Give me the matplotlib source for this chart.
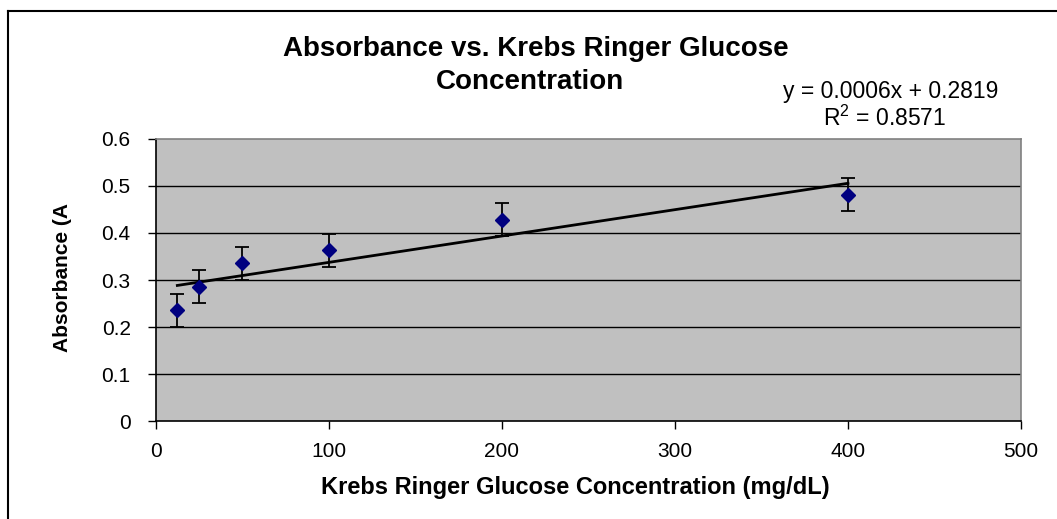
import numpy as np
import matplotlib
matplotlib.use("Agg")
import matplotlib.pyplot as plt
from matplotlib.lines import Line2D

# glucose concentration (mg/dL) and mean absorbance
concentration = [12.5, 25, 50, 100, 200, 400]
absorbance = [0.236, 0.286, 0.336, 0.363, 0.428, 0.481]
abs_error = [0.035, 0.035, 0.035, 0.035, 0.035, 0.035]

x_ticks = [0, 100, 200, 300, 400, 500]
y_ticks = [0, 0.1, 0.2, 0.3, 0.4, 0.5, 0.6]
y_tick_labels = ["0", "0.1", "0.2", "0.3", "0.4", "0.5", "0.6"]

title_lines = ["Absorbance vs. Krebs Ringer Glucose", "Concentration"]
equation = "y = 0.0006x + 0.2819"
r_squared = "R$^2$ = 0.8571"

plt.rcParams["font.family"] = ["Liberation Sans", "DejaVu Sans"]
plt.rcParams["mathtext.fontset"] = "custom"
plt.rcParams["mathtext.rm"] = "Liberation Sans"

fig = plt.figure(figsize=(10.57, 5.19), dpi=100)
ax = fig.add_axes([0.1473, 0.1888, 0.966 - 0.1473, 0.7322 - 0.1888])
ax.set_facecolor("#C0C0C0")

# chart area border (left and top edges visible)
fig.add_artist(Line2D([8 / 1057, 8 / 1057], [0, 1 - 11 / 519], transform=fig.transFigure,
                      color="black", lw=1.5))
fig.add_artist(Line2D([8 / 1057, 1], [1 - 11 / 519, 1 - 11 / 519], transform=fig.transFigure,
                      color="black", lw=1.5))

for yv in y_ticks[1:-1]:
    ax.axhline(yv, color="black", lw=1.0, zorder=1)

# linear trendline
slope, intercept = np.polyfit(concentration, absorbance, 1)
xs = np.array([min(concentration), max(concentration)])
ax.plot(xs, slope * xs + intercept, color="black", lw=2.0, zorder=2)

ax.errorbar(concentration, absorbance, yerr=abs_error, fmt="D", color="#000080",
            markersize=7, ecolor="black", elinewidth=1.3, capsize=5, capthick=1.3, zorder=3)

ax.set_xlim(0, 500)
ax.set_ylim(0, 0.6)
ax.set_xticks(x_ticks)
ax.set_yticks(y_ticks)
ax.set_yticklabels(y_tick_labels)
ax.tick_params(axis="both", direction="out", length=6, width=1, labelsize=15, colors="black")
ax.tick_params(axis="x", pad=9)
ax.tick_params(axis="y", pad=12)

for side in ("left", "bottom"):
    ax.spines[side].set_color("black")
    ax.spines[side].set_linewidth(1.2)
for side in ("top", "right"):
    ax.spines[side].set_color("#808080")
    ax.spines[side].set_linewidth(1.2)

fig.text(536 / 1057, 1 - 56 / 519, title_lines[0], ha="center",
         va="baseline", fontsize=20, fontweight="bold")
fig.text(530 / 1057, 1 - 89 / 519, title_lines[1], ha="center", va="baseline",
         fontsize=20, fontweight="bold")

fig.text(891 / 1057, 1 - 98 / 519, equation, ha="center", va="baseline", fontsize=16.5)
fig.text(884 / 1057, 1 - 126 / 519, r_squared, ha="center", va="baseline", fontsize=16.5)

fig.text(575 / 1057, 1 - 494 / 519, "Krebs Ringer Glucose Concentration (mg/dL)",
         ha="center", va="baseline", fontsize=17, fontweight="bold")
fig.text(62 / 1057, 1 - 278 / 519, "Absorbance (A", ha="center", va="center",
         rotation=90, fontsize=15, fontweight="bold")

fig.savefig("out.png", dpi=100)
